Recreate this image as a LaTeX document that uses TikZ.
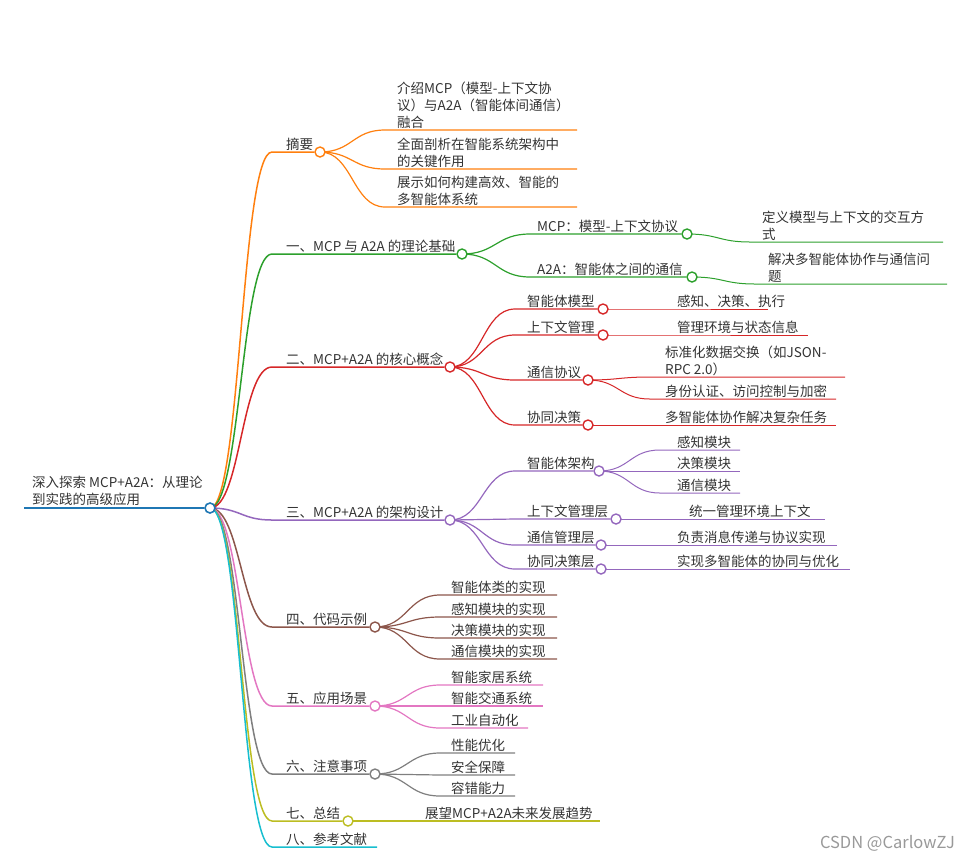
\documentclass[tikz,border=0pt]{standalone}
\usepackage{fontspec}
\setmainfont{Noto Sans CJK SC}
\usetikzlibrary{calc,backgrounds}
\definecolor{croot}{HTML}{1F77B4}
\definecolor{corange}{HTML}{FF7F0E}
\definecolor{cgreen}{HTML}{2CA02C}
\definecolor{cred}{HTML}{D62728}
\definecolor{cpurple}{HTML}{9467BD}
\definecolor{cbrown}{HTML}{8C564B}
\definecolor{cpink}{HTML}{E377C2}
\definecolor{cgray}{HTML}{7F7F7F}
\definecolor{colive}{HTML}{BCBD22}
\definecolor{ccyan}{HTML}{17BECF}
\definecolor{ink}{HTML}{333333}

\begin{document}
\begin{tikzpicture}[x=1pt, y=-1pt,
  txt/.style={anchor=south west, inner sep=0pt, align=left, text=ink, yshift=-1.5pt,
              font=\fontsize{13.5}{17}\selectfont},
  dot/.style={circle, draw, fill=white, minimum size=10pt, inner sep=0pt, line width=1.4pt},
  link/.style={to path={let \p1=(\tikztostart), \p2=(\tikztotarget) in
              .. controls ({0.5*\x1+0.5*\x2},\y1) and ({0.5*\x1+0.5*\x2},\y2) .. (\tikztotarget)}},
  w0/.style={line width=2.5pt},
  w1/.style={line width=1.5pt},
  w2/.style={line width=1.2pt},
  w3/.style={line width=1pt}]
\useasboundingbox (0,0) rectangle (965,860);

\coordinate (r0) at (24,508);
\node[dot, draw=croot, line width=1.6pt] (r) at (210,508) {};
\node[txt] (rT) at (32,504) {深入探索 MCP+A2A：从理论\\到实践的高级应用};

\coordinate (sum0) at (272,152);
\node[dot, draw=corange] (sum) at (320,152) {};
\node[txt] (sumT) at (286,149) {摘要};
\coordinate (thy0) at (272,254);
\node[dot, draw=cgreen] (thy) at (462,254) {};
\node[txt] (thyT) at (286,251) {一、MCP 与 A2A 的理论基础};
\coordinate (core0) at (272,367);
\node[dot, draw=cred] (core) at (450,367) {};
\node[txt] (coreT) at (286,364) {二、MCP+A2A 的核心概念};
\coordinate (arch0) at (272,520);
\node[dot, draw=cpurple] (arch) at (450,520) {};
\node[txt] (archT) at (286,517) {三、MCP+A2A 的架构设计};
\coordinate (code0) at (272,627);
\node[dot, draw=cbrown] (code) at (375,627) {};
\node[txt] (codeT) at (286,624) {四、代码示例};
\coordinate (app0) at (272,706);
\node[dot, draw=cpink] (app) at (375,706) {};
\node[txt] (appT) at (286,703) {五、应用场景};
\coordinate (note0) at (272,774);
\node[dot, draw=cgray] (note) at (375,774) {};
\node[txt] (noteT) at (286,771) {六、注意事项};
\coordinate (end0) at (272,821);
\node[dot, draw=colive] (end) at (348,821) {};
\node[txt] (endT) at (286,818) {七、总结};
\coordinate (ref0) at (272,847);
\coordinate (ref1) at (377,847);
\node[txt] (refT) at (286,844) {八、参考文献};

\coordinate (sum1) at (385,130); \coordinate (sum1e) at (577,130);
\node[txt] (sum1T) at (397,127) {介绍MCP（模型-上下文协\\议）与A2A（智能体间通信）\\融合};
\coordinate (sum2) at (385,169); \coordinate (sum2e) at (577,169);
\node[txt] (sum2T) at (397,166) {全面剖析在智能系统架构中\\的关键作用};
\coordinate (sum3) at (385,207); \coordinate (sum3e) at (577,207);
\node[txt] (sum3T) at (397,204) {展示如何构建高效、智能的\\多智能体系统};

\coordinate (thy1) at (530,234);
\node[dot, draw=cgreen] (thy1c) at (687,234) {};
\node[txt] (thy1T) at (537,231) {MCP：模型-上下文协议};
\coordinate (thy2) at (530,277);
\node[dot, draw=cgreen] (thy2c) at (692,277) {};
\node[txt] (thy2T) at (537,274) {A2A：智能体之间的通信};
\coordinate (thy1a) at (750,242); \coordinate (thy1ae) at (943,242);
\node[txt] (thy1aT) at (762,239) {定义模型与上下文的交互方\\式};
\coordinate (thy2a) at (755,284); \coordinate (thy2ae) at (947,284);
\node[txt] (thy2aT) at (768,281) {解决多智能体协作与通信问\\题};

\coordinate (core1) at (515,309);
\node[dot, draw=cred] (core1c) at (603,309) {};
\node[txt] (core1T) at (527,306) {智能体模型};
\coordinate (core2) at (515,335);
\node[dot, draw=cred] (core2c) at (603,335) {};
\node[txt] (core2T) at (527,332) {上下文管理};
\coordinate (core3) at (515,380);
\node[dot, draw=cred] (core3c) at (588,380) {};
\node[txt] (core3T) at (527,377) {通信协议};
\coordinate (core4) at (515,425);
\node[dot, draw=cred] (core4c) at (588,425) {};
\node[txt] (core4T) at (527,422) {协同决策};
\coordinate (core1a) at (655,309); \coordinate (core1ae) at (768,309);
\node[txt] (core1aT) at (677,306) {感知、决策、执行};
\coordinate (core2a) at (655,335); \coordinate (core2ae) at (808,335);
\node[txt] (core2aT) at (677,332) {管理环境与状态信息};
\coordinate (core3a) at (650,377); \coordinate (core3ae) at (845,377);
\node[txt] (core3aT) at (665,374) {标准化数据交换（如JSON-\\RPC 2.0）};
\coordinate (core3b) at (650,399); \coordinate (core3be) at (836,399);
\node[txt] (core3bT) at (665,396) {身份认证、访问控制与加密};
\coordinate (core4a) at (650,425); \coordinate (core4ae) at (836,425);
\node[txt] (core4aT) at (665,422) {多智能体协作解决复杂任务};

\coordinate (arch1) at (515,471);
\node[dot, draw=cpurple] (arch1c) at (599,471) {};
\node[txt] (arch1T) at (527,468) {智能体架构};
\coordinate (arch2) at (515,519);
\node[dot, draw=cpurple] (arch2c) at (616,519) {};
\node[txt] (arch2T) at (527,516) {上下文管理层};
\coordinate (arch3) at (515,545);
\node[dot, draw=cpurple] (arch3c) at (601,545) {};
\node[txt] (arch3T) at (527,542) {通信管理层};
\coordinate (arch4) at (515,569);
\node[dot, draw=cpurple] (arch4c) at (601,569) {};
\node[txt] (arch4T) at (527,566) {协同决策层};
\coordinate (arch1a) at (660,450); \coordinate (arch1ae) at (740,450);
\node[txt] (arch1aT) at (677,447) {感知模块};
\coordinate (arch1b) at (660,471); \coordinate (arch1be) at (740,471);
\node[txt] (arch1bT) at (677,468) {决策模块};
\coordinate (arch1c2) at (660,493); \coordinate (arch1ce) at (740,493);
\node[txt] (arch1cT) at (677,490) {通信模块};
\coordinate (arch2a) at (665,519); \coordinate (arch2ae) at (825,519);
\node[txt] (arch2aT) at (689,516) {统一管理环境上下文};
\coordinate (arch3a) at (660,545); \coordinate (arch3ae) at (837,545);
\node[txt] (arch3aT) at (677,542) {负责消息传递与协议实现};
\coordinate (arch4a) at (660,569); \coordinate (arch4ae) at (850,569);
\node[txt] (arch4aT) at (677,566) {实现多智能体的协同与优化};

\coordinate (code1) at (440,595); \coordinate (code1e) at (557,595);
\node[txt] (code1T) at (451,592) {智能体类的实现};
\coordinate (code2) at (440,617); \coordinate (code2e) at (557,617);
\node[txt] (code2T) at (451,614) {感知模块的实现};
\coordinate (code3) at (440,638); \coordinate (code3e) at (557,638);
\node[txt] (code3T) at (451,635) {决策模块的实现};
\coordinate (code4) at (440,659); \coordinate (code4e) at (557,659);
\node[txt] (code4T) at (451,656) {通信模块的实现};

\coordinate (app1) at (440,685); \coordinate (app1e) at (543,685);
\node[txt] (app1T) at (451,682) {智能家居系统};
\coordinate (app2) at (440,706); \coordinate (app2e) at (543,706);
\node[txt] (app2T) at (451,703) {智能交通系统};
\coordinate (app3) at (440,728); \coordinate (app3e) at (528,728);
\node[txt] (app3T) at (451,725) {工业自动化};

\coordinate (note1) at (440,753); \coordinate (note1e) at (515,753);
\node[txt] (note1T) at (451,750) {性能优化};
\coordinate (note2) at (440,775); \coordinate (note2e) at (515,775);
\node[txt] (note2T) at (451,772) {安全保障};
\coordinate (note3) at (440,796); \coordinate (note3e) at (515,796);
\node[txt] (note3T) at (451,793) {容错能力};

\coordinate (end1) at (415,821); \coordinate (end1e) at (600,821);
\node[txt] (end1T) at (425,818) {展望MCP+A2A未来发展趋势};

\node[anchor=east, inner sep=0pt, text=black!40, font=\fontsize{16.5}{19}\selectfont] (mark) at (955,843) {CSDN @CarlowZJ};

\begin{scope}[on background layer]
\draw[w0, croot] (r0) -- (r);
\draw[w1, corange] (r.center) to[link] (sum0) -- (sum);
\draw[w1, cgreen] (r.center) to[link] (thy0) -- (thy);
\draw[w1, cred] (r.center) to[link] (core0) -- (core);
\draw[w1, cpurple] (r.center) to[link] (arch0) -- (arch);
\draw[w1, cbrown] (r.center) to[link] (code0) -- (code);
\draw[w1, cpink] (r.center) to[link] (app0) -- (app);
\draw[w1, cgray] (r.center) to[link] (note0) -- (note);
\draw[w1, colive] (r.center) to[link] (end0) -- (end);
\draw[w1, ccyan] (r.center) to[link] (ref0) -- (ref1);

\draw[w2, corange] (sum.center) to[link] (sum1) -- (sum1e);
\draw[w2, corange] (sum.center) to[link] (sum2) -- (sum2e);
\draw[w2, corange] (sum.center) to[link] (sum3) -- (sum3e);

\draw[w2, cgreen] (thy.center) to[link] (thy1) -- (thy1c);
\draw[w2, cgreen] (thy.center) to[link] (thy2) -- (thy2c);
\draw[w3, cgreen] (thy1c.center) to[link] (thy1a) -- (thy1ae);
\draw[w3, cgreen] (thy2c.center) to[link] (thy2a) -- (thy2ae);

\draw[w2, cred] (core.center) to[link] (core1) -- (core1c);
\draw[w2, cred] (core.center) to[link] (core2) -- (core2c);
\draw[w2, cred] (core.center) to[link] (core3) -- (core3c);
\draw[w2, cred] (core.center) to[link] (core4) -- (core4c);
\draw[w3, cred] (core1c.center) to[link] (core1a) -- (core1ae);
\draw[w3, cred] (core2c.center) to[link] (core2a) -- (core2ae);
\draw[w3, cred] (core3c.center) to[link] (core3a) -- (core3ae);
\draw[w3, cred] (core3c.center) to[link] (core3b) -- (core3be);
\draw[w3, cred] (core4c.center) to[link] (core4a) -- (core4ae);

\draw[w2, cpurple] (arch.center) to[link] (arch1) -- (arch1c);
\draw[w2, cpurple] (arch.center) to[link] (arch2) -- (arch2c);
\draw[w2, cpurple] (arch.center) to[link] (arch3) -- (arch3c);
\draw[w2, cpurple] (arch.center) to[link] (arch4) -- (arch4c);
\draw[w3, cpurple] (arch1c.center) to[link] (arch1a) -- (arch1ae);
\draw[w3, cpurple] (arch1c.center) to[link] (arch1b) -- (arch1be);
\draw[w3, cpurple] (arch1c.center) to[link] (arch1c2) -- (arch1ce);
\draw[w3, cpurple] (arch2c.center) to[link] (arch2a) -- (arch2ae);
\draw[w3, cpurple] (arch3c.center) to[link] (arch3a) -- (arch3ae);
\draw[w3, cpurple] (arch4c.center) to[link] (arch4a) -- (arch4ae);

\draw[w2, cbrown] (code.center) to[link] (code1) -- (code1e);
\draw[w2, cbrown] (code.center) to[link] (code2) -- (code2e);
\draw[w2, cbrown] (code.center) to[link] (code3) -- (code3e);
\draw[w2, cbrown] (code.center) to[link] (code4) -- (code4e);

\draw[w2, cpink] (app.center) to[link] (app1) -- (app1e);
\draw[w2, cpink] (app.center) to[link] (app2) -- (app2e);
\draw[w2, cpink] (app.center) to[link] (app3) -- (app3e);

\draw[w2, cgray] (note.center) to[link] (note1) -- (note1e);
\draw[w2, cgray] (note.center) to[link] (note2) -- (note2e);
\draw[w2, cgray] (note.center) to[link] (note3) -- (note3e);

\draw[w2, colive] (end.center) to[link] (end1) -- (end1e);
\end{scope}
\end{tikzpicture}
\end{document}
